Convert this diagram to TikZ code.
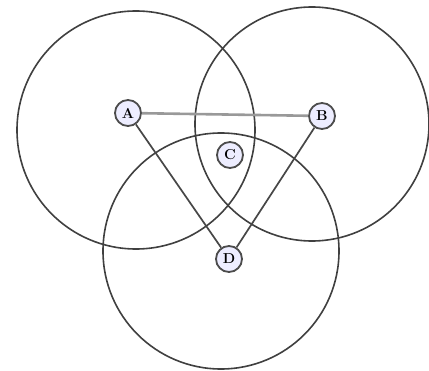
\documentclass[tikz,border=0pt]{standalone}
\begin{document}
\begin{tikzpicture}[x=1pt,y=-1pt,
  rangering/.style={draw=black!75,line width=1.6pt},
  linkline/.style={draw=black!72,line width=1.7pt},
  station/.style={circle,draw=black!70,line width=1.8pt,fill=blue!7,minimum size=26pt,inner sep=0pt,font=\bfseries\Large}]
\useasboundingbox (0,0) rectangle (429,371);
\fill[white] (0,0) rectangle (429,371);
\draw[rangering] (136,130) circle (119);
\draw[rangering] (312,124) circle (117);
\draw[rangering] (221,251) circle (118);
\node[station] (A) at (128,113) {A};
\node[station] (B) at (322,116) {B};
\node[station] (C) at (230,155) {C};
\node[station] (D) at (229,259) {D};
\draw[linkline,draw=black!40,line width=2.6pt] (A) -- (B);
\draw[linkline] (A) -- (D);
\draw[linkline] (B) -- (D);
\end{tikzpicture}
\end{document}
